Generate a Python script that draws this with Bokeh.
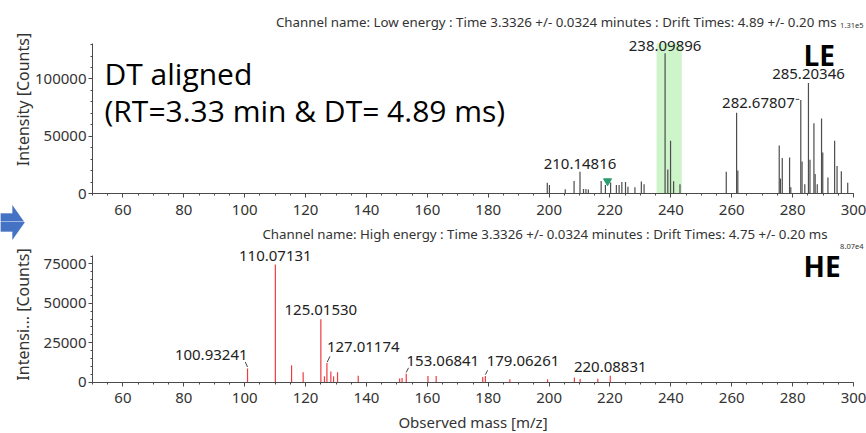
import math
from bokeh.plotting import figure
from bokeh.models import (Range1d, SingleIntervalTicker, BasicTickFormatter, Label,
                          BoxAnnotation, PolyAnnotation)
from bokeh.layouts import column
from bokeh.embed import file_html
from bokeh.resources import INLINE

# ---------------- data ----------------
x_min, x_max = 50, 300
x_axis_title = "Observed mass [m/z]"

top_title = "Channel name: Low energy : Time 3.3326 +/- 0.0324 minutes : Drift Times: 4.89 +/- 0.20 ms"
top_y_title = "Intensity [Counts]"
top_ymax = 131000
top_scale = "1.31e5"
top_tag = "LE"
top_mz = [199.4, 200.1, 205.3, 208.2, 210.15, 211.3, 212.1, 212.9, 217.1, 218.5,
          220.2, 222.1, 223.0, 223.9, 225.1, 225.9, 228.2, 230.3, 231.2,
          238.1, 239.0, 239.9, 240.9, 243.0, 258.2, 261.6, 262.0,
          275.6, 276.0, 276.6, 279.0, 279.4, 282.68, 283.1, 284.0, 285.2, 285.7,
          287.0, 287.4, 288.1, 289.5, 289.9, 291.6, 293.8, 294.6, 296.0, 298.1]
top_int = [9300, 7500, 3800, 11000, 19000, 4000, 4000, 3500, 11000, 7500,
           9500, 7500, 7500, 10000, 10000, 6000, 5500, 10500, 8000,
           122500, 21000, 46000, 10800, 8000, 19000, 70500, 20000,
           42000, 13000, 31000, 31500, 5500, 81600, 28000, 8000, 96500, 29500,
           61300, 17000, 8000, 65500, 35700, 14000, 46000, 24000, 19500, 9400]
top_label_mz = [210.14816, 238.09896, 282.67807, 285.20346]
le_window = [235.3, 243.6]
marker_mz = [219.2]
marker_int = [10800]

bot_title = "Channel name: High energy : Time 3.3326 +/- 0.0324 minutes : Drift Times: 4.75 +/- 0.20 ms"
bot_y_title = "Intensi... [Counts]"
bot_ymax = 80700
bot_scale = "8.07e4"
bot_tag = "HE"
bot_mz = [100.93, 110.07, 115.4, 119.2, 125.02, 126.2, 127.01, 128.3, 129.2, 130.5,
          137.3, 150.9, 151.7, 153.07, 160.2, 162.9, 178.2, 179.06, 187.1, 199.5,
          208.3, 210.2, 216.0, 220.09]
bot_int = [8500, 74700, 10600, 6200, 39800, 3600, 12000, 6600, 3600, 6200,
           4000, 2200, 2500, 5200, 3800, 3800, 3200, 3800, 1700, 1700,
           2800, 1900, 2100, 4000]
bot_label_mz = [100.93241, 110.07131, 125.01530, 127.01174, 153.06841, 179.06261, 220.08831]

big_text = ["DT aligned", "(RT=3.33 min & DT= 4.89 ms)"]

# ---------------- layout / style ----------------
W = 866
AX_L, AX_R = 92, 853            # pixel column of x_min / x_max
TOP_H = 221
TOP_AX_T, TOP_AX_B = 43, 193    # pixel row of ymax / 0 (top figure)
BOT_H = 212
BOT_AX_T, BOT_AX_B = 33.5, 160.5
FONT = "Noto Sans"
TXT = "#333333"
AX = "#4a4a4a"
BASE_FIX = 0.27                  # baseline correction (fraction of font size)
LBL = 15                         # peak label font size (px)

top_styles = {
    210.14816: ("center", 0, 4, None),
    238.09896: ("center", 0, 3, None),
    282.67807: ("right", -6, -7, ((-5, 0.7), (-1.5, 0.7))),
    285.20346: ("center", 0, 5, None),
}
bot_styles = {
    100.93241: ("right", 0, 10, ((-2.3, 6.6), (0, 1.6))),
    110.07131: ("center", 0, 4, None),
    125.01530: ("center", 0, 5, None),
    127.01174: ("left", 0, 12, ((0.3, 1.0), (3.0, 6.7))),
    153.06841: ("left", 0.3, 9, ((0, 1.4), (2.3, 6.0))),
    179.06261: ("left", 1.3, 11, ((0, 1.4), (2.3, 5.7))),
    220.08831: ("center", 0, 5, None),
}

SX = (AX_R - AX_L) / (x_max - x_min)   # px per m/z unit


def make_fig(height, ymax, ytick, ax_t, ax_b):
    sy = (ax_b - ax_t) / ymax
    xr = Range1d(x_min - AX_L / SX, x_max + (W - AX_R) / SX)
    yr = Range1d(-(height - ax_b) / sy, ymax + ax_t / sy)
    p = figure(width=W, height=height, title=None, x_range=xr, y_range=yr,
               output_backend="svg", toolbar_location=None, min_border=0)
    p.outline_line_color = None
    p.xgrid.visible = False
    p.ygrid.visible = False
    p.background_fill_color = "white"
    p.border_fill_color = "white"
    for ax in (p.xaxis[0], p.yaxis[0]):
        ax.axis_line_color = AX
        ax.major_tick_line_color = AX
        ax.minor_tick_line_color = AX
        ax.major_tick_in = 0
        ax.minor_tick_in = 0
        ax.major_label_text_font = FONT
        ax.major_label_text_font_size = "15px"
        ax.major_label_text_color = TXT
    xa, ya = p.xaxis[0], p.yaxis[0]
    xa.fixed_location = 0
    xa.bounds = (x_min, x_max)
    xa.ticker = SingleIntervalTicker(interval=20, num_minor_ticks=4)
    xa.major_tick_out = 4
    xa.minor_tick_out = 2
    xa.major_label_standoff = 7
    ya.fixed_location = x_min
    ya.bounds = (0, ymax)
    ya.ticker = SingleIntervalTicker(interval=ytick, num_minor_ticks=5)
    ya.formatter = BasicTickFormatter(use_scientific=False)
    ya.major_tick_out = 4
    ya.minor_tick_out = 2
    ya.major_label_standoff = 2
    return p, sy


def peak_labels(p, sy, mzs, bars_mz, bars_int, styles):
    for mz in mzs:
        i = min(range(len(bars_mz)), key=lambda k: abs(bars_mz[k] - mz))
        h = bars_int[i]
        align, dx, dy, leader = styles[mz]
        p.add_layout(Label(x=mz, y=h, text=f"{mz:.5f}", text_align=align,
                           text_baseline="alphabetic", x_offset=dx,
                           y_offset=dy + BASE_FIX * LBL,
                           text_font=FONT, text_font_size=f"{LBL}px", text_color="#222222"))
        if leader:
            (a, b), (c, d) = leader
            p.segment(x0=[mz + a / SX], y0=[h + b / sy], x1=[mz + c / SX], y1=[h + d / sy],
                      line_color="#444444", line_width=1)


def canvas_label(p, x, y, text, size, align="left", font=FONT, color=TXT, angle=0,
                 baseline="alphabetic", style="normal"):
    if baseline == "alphabetic":
        y = y - BASE_FIX * size
    p.add_layout(Label(x=x, y=y, x_units="canvas", y_units="canvas", text=text,
                       text_align=align, text_baseline=baseline, text_font=font,
                       text_font_size=f"{size}px", text_color=color, angle=angle,
                       text_font_style=style))


def arrow(p, dy):
    xs = [0, 12, 12, 24, 12, 12, 0]
    ys = [213, 213, 205, 222, 239, 231, 231]
    p.add_layout(PolyAnnotation(xs=xs, ys=[v + dy for v in ys], xs_units="canvas",
                                ys_units="canvas", fill_color="#4472c4", fill_alpha=1,
                                line_color="#3a63ad", line_width=1))


# ---------------- top (low energy) ----------------
top, top_sy = make_fig(TOP_H, top_ymax, 50000, TOP_AX_T, TOP_AX_B)
top.add_layout(BoxAnnotation(left=le_window[0], right=le_window[1], bottom=0, top=top_ymax,
                             fill_color="#cdf5c9", fill_alpha=1, line_color=None,
                             level="underlay"))
top.segment(x0=top_mz, y0=[0] * len(top_mz), x1=top_mz, y1=top_int,
            line_color="#4d4d4d", line_width=1.2)
top.scatter(x=marker_mz, y=marker_int, marker="inverted_triangle", size=8,
            fill_color="#2a9d6f", line_color="#2a9d6f")
peak_labels(top, top_sy, top_label_mz, top_mz, top_int, top_styles)
canvas_label(top, 836, 25, top_title, 13.3, align="right")
canvas_label(top, 863, 27, top_scale, 7.5, align="right")
canvas_label(top, 803, 62, top_tag, 28, font="Open Sans", color="#000000", style="bold")
canvas_label(top, 104, 81, big_text[0], 30, font="Open Sans", color="#000000")
canvas_label(top, 104, 118, big_text[1], 30, font="Open Sans", color="#000000")
canvas_label(top, 22, 99, top_y_title, 16, align="center", angle=math.pi / 2,
             baseline="middle")
arrow(top, 0)

# ---------------- bottom (high energy) ----------------
bot, bot_sy = make_fig(BOT_H, bot_ymax, 25000, BOT_AX_T, BOT_AX_B)
bot.segment(x0=bot_mz, y0=[0] * len(bot_mz), x1=bot_mz, y1=bot_int,
            line_color="#ee3b3f", line_width=1.2)
peak_labels(bot, bot_sy, bot_label_mz, bot_mz, bot_int, bot_styles)
xa = bot.xaxis[0]
xa.axis_label = x_axis_title
xa.axis_label_text_font = FONT
xa.axis_label_text_font_size = "15px"
xa.axis_label_text_font_style = "normal"
xa.axis_label_text_color = TXT
xa.axis_label_standoff = 5
canvas_label(bot, 827, 16, bot_title, 13.3, align="right")
canvas_label(bot, 863, 27, bot_scale, 7.5, align="right")
canvas_label(bot, 803, 52, bot_tag, 28, font="Open Sans", color="#000000", style="bold")
canvas_label(bot, 22, 93, bot_y_title, 16, align="center", angle=math.pi / 2,
             baseline="middle")
arrow(bot, -TOP_H)

layout = column(top, bot, spacing=0)
open("out.html", "w").write(file_html(layout, INLINE))
